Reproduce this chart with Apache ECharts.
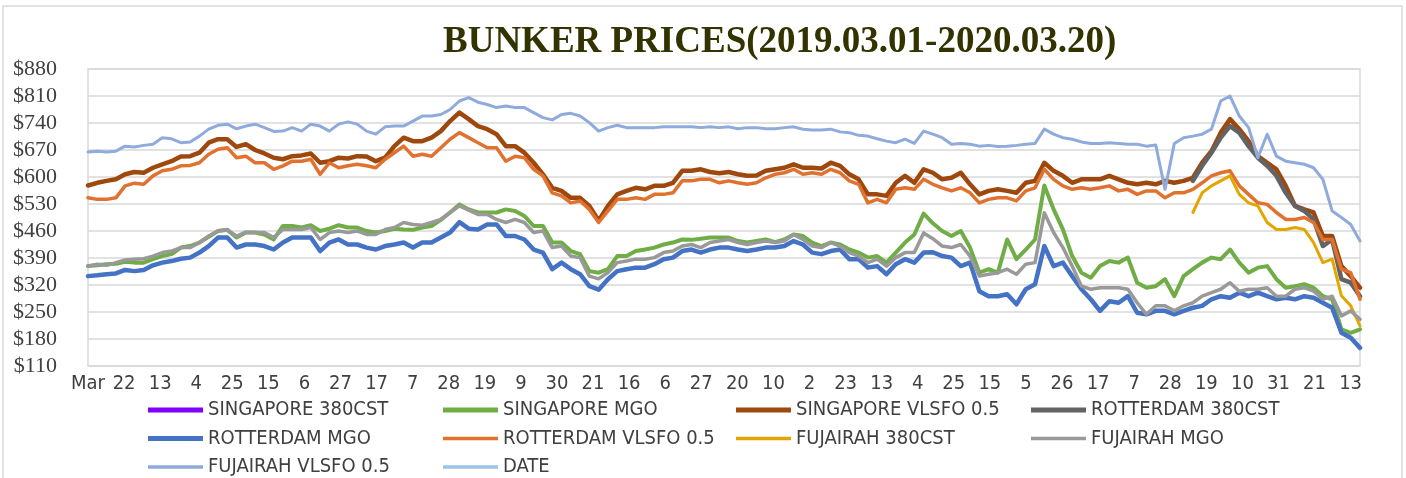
<!DOCTYPE html>
<html>
<head>
<meta charset="utf-8">
<title>Bunker prices</title>
<script src="https://cdn.jsdelivr.net/npm/echarts@6/dist/echarts.min.js"></script>
<style>
  html, body { margin: 0; padding: 0; background: #fff; }
  #main { width: 1406px; height: 478px; }
</style>
</head>
<body>
<div id="main"></div>
<script>
// x axis tick labels (one every few samples)
const tickLabels = ['Mar', '22', '13', '4', '25', '15', '6', '27', '17', '7', '28', '19', '9', '30', '21', '16', '6', '27',
  '20', '10', '2', '23', '13', '4', '25', '15', '5', '26', '17', '7', '28', '19', '10', '31', '21', '13'];

// prices, USD/t
const sgMgo = [
  369, 371, 374, 375, 380, 378, 378, 387, 395, 400, 417, 421, 430, 445, 460, 463, 443, 456, 456, 451, 438, 473, 473,
  469, 475, 460, 466, 475, 469, 469, 460, 456, 460, 466, 464, 463, 469, 473, 489, 508, 529, 516, 508, 508, 508, 516,
  512, 499, 473, 473, 430, 430, 408, 400, 356, 352, 361, 395, 395, 408, 412, 417, 425, 430, 438, 437, 440, 443, 443,
  443, 434, 430, 434, 438, 431, 438, 451, 447, 430, 421, 430, 425, 412, 404, 391, 395, 378, 404, 430, 451, 505, 480,
  460, 447, 460, 417, 352, 361, 352, 438, 387, 412, 438, 578, 516, 464, 395, 352, 339, 369, 382, 378, 391, 326,
  313, 317, 335, 291, 343, 361, 378, 391, 387, 412, 378, 352, 365, 369, 335, 313, 317, 322, 313, 291, 283, 205, 196, 205
];
const sgVlsfo = [
  578, 585, 590, 594, 607, 613, 611, 624, 633, 641, 653, 654, 663, 689, 698, 698, 678, 685, 670, 661, 650, 646, 654,
  656, 661, 637, 641, 650, 648, 654, 653, 641, 650, 680, 702, 693, 693, 702, 719, 745, 767, 750, 732, 724, 711, 680,
  680, 663, 637, 607, 572, 564, 546, 546, 525, 487, 525, 555, 564, 572, 568, 577, 577, 585, 616, 616, 620, 613, 610,
  613, 607, 603, 604, 616, 620, 624, 633, 624, 624, 622, 637, 629, 607, 594, 555, 555, 551, 585, 603, 585, 620, 611,
  594, 598, 611, 581, 555, 564, 568, 564, 559, 585, 590, 637, 616, 603, 585, 594, 594, 594, 603, 594, 585, 581,
  585, 581, 590, 585, 590, 598, 637, 667, 715, 750, 724, 693, 654, 637, 620, 577, 525, 516, 508, 447, 447, 369, 343, 313
];
const rdmMgo = [
  343, 345, 348, 350, 359, 356, 359, 371, 378, 382, 388, 391, 404, 421, 443, 443, 417, 425, 425, 421, 412, 430, 443,
  443, 443, 408, 430, 438, 425, 425, 417, 412, 421, 425, 430, 417, 430, 430, 443, 456, 483, 466, 464, 477, 477, 447,
  447, 438, 412, 404, 361, 378, 361, 348, 317, 308, 335, 356, 361, 365, 365, 374, 387, 391, 408, 412, 404, 412, 417,
  417, 412, 408, 412, 417, 417, 421, 434, 425, 404, 400, 408, 412, 387, 387, 365, 369, 348, 374, 387, 378, 404, 405,
  395, 391, 369, 378, 304, 291, 291, 296, 270, 309, 322, 421, 369, 378, 343, 309, 283, 253, 278, 274, 291, 248,
  244, 253, 253, 244, 253, 261, 266, 283, 291, 287, 300, 291, 300, 291, 283, 287, 283, 291, 287, 274, 261, 196, 183, 157
];
const rdmVlsfo = [
  546, 542, 542, 546, 577, 584, 581, 603, 616, 620, 629, 630, 637, 659, 672, 676, 650, 654, 637, 637, 620, 629, 641,
  641, 646, 607, 637, 624, 629, 633, 629, 624, 646, 663, 680, 654, 659, 654, 676, 698, 715, 702, 689, 676, 676, 641,
  654, 650, 620, 603, 559, 551, 533, 538, 516, 482, 512, 542, 542, 546, 542, 555, 555, 559, 590, 590, 594, 594, 585,
  590, 585, 581, 585, 598, 607, 611, 620, 607, 611, 607, 620, 611, 590, 581, 533, 542, 533, 568, 572, 568, 594, 581,
  572, 564, 572, 559, 533, 542, 546, 546, 538, 564, 572, 620, 594, 577, 568, 572, 568, 572, 577, 564, 568, 555,
  564, 564, 546, 559, 559, 568, 585, 603, 611, 616, 577, 555, 533, 529, 508, 490, 490, 495, 482, 438, 438, 361, 352, 283
];
const fujMgo = [
  369, 374, 371, 378, 385, 387, 388, 395, 404, 408, 417, 417, 430, 447, 460, 463, 447, 457, 456, 456, 443, 464, 464,
  464, 469, 438, 456, 460, 456, 460, 451, 451, 464, 469, 482, 477, 475, 482, 490, 508, 525, 514, 503, 503, 490, 482,
  490, 482, 456, 460, 417, 421, 395, 391, 343, 336, 352, 378, 382, 387, 387, 391, 404, 408, 421, 425, 417, 430, 434,
  438, 430, 425, 430, 434, 430, 434, 451, 438, 421, 417, 430, 421, 404, 395, 378, 387, 369, 391, 404, 404, 455, 440,
  421, 417, 425, 395, 343, 348, 352, 361, 348, 374, 378, 507, 456, 417, 369, 317, 309, 313, 313, 313, 309, 274,
  244, 266, 266, 253, 266, 274, 291, 300, 309, 326, 304, 309, 309, 313, 291, 291, 309, 313, 304, 283, 291, 240, 253, 231
];
const fujVlsfo = [
  665, 667, 665, 667, 680, 678, 682, 685, 702, 699, 689, 691, 706, 724, 734, 737, 725, 732, 737, 728, 718, 719, 728,
  719, 737, 732, 719, 737, 743, 737, 719, 711, 730, 732, 732, 745, 758, 758, 762, 775, 797, 806, 794, 788, 780, 784,
  780, 780, 767, 754, 748, 762, 765, 758, 741, 719, 728, 734, 728, 728, 728, 728, 730, 730, 730, 730, 728, 730, 728,
  730, 725, 728, 728, 725, 725, 728, 730, 724, 722, 722, 724, 717, 715, 708, 706, 699, 693, 689, 698, 687, 719, 711,
  702, 685, 687, 685, 680, 682, 679, 680, 682, 685, 687, 724, 711, 702, 698, 691, 687, 687, 689, 687, 685, 685,
  680, 683, 568, 687, 702, 706, 711, 724, 797, 810, 758, 728, 650, 711, 654, 641, 637, 633, 624, 594, 512, 495, 477, 434
];
// 380CST quotes only start near the end
const lateStart = 119;
const rdm380Tail = [590, 629, 663, 702, 732, 715, 680, 650, 629, 603, 559, 525, 512, 490, 421, 438, 335, 326, 291];
const fuj380Tail = [508, 559, 577, 590, 603, 555, 533, 525, 482, 464, 464, 469, 464, 430, 378, 387, 292, 266, 214];
const sg380 = [];
const dateSeries = [];

const days = sgVlsfo.map((_, i) => String(i));
const padLate = tail => new Array(lateStart).fill(null).concat(tail);
// last tick label sits a little before the right edge
const tickSpan = 35.26;

const narrowFont = '"Liberation Sans Narrow", "DejaVu Sans Condensed", "Noto Sans CJK SC", sans-serif';
const thick = 'path://M0,0H55V5H0Z';
const thin = 'path://M0,0H55V3.5H0Z';

function line(name, color, width, data) {
  return {
    name: name,
    type: 'line',
    xAxisIndex: 0,
    data: data,
    symbol: 'none',
    connectNulls: false,
    lineStyle: {color: color, width: width, cap: 'round', join: 'round'},
    itemStyle: {color: color},
    emphasis: {disabled: true}
  };
}

function legendCol(left, items) {
  return {
    orient: 'vertical',
    left: left,
    top: 398,
    height: 90,
    padding: 0,
    itemWidth: 55,
    itemHeight: 5,
    itemGap: 4.5,
    selectedMode: false,
    textStyle: {fontFamily: narrowFont, fontSize: 20, color: '#404040', lineHeight: 24},
    data: items
  };
}

const chart = echarts.init(document.getElementById('main'));
chart.setOption({
  animation: false,
  backgroundColor: '#fff',
  title: {
    text: 'BUNKER PRICES(2019.03.01-2020.03.20)',
    left: 443,
    top: 24,
    padding: 0,
    textStyle: {fontFamily: '"Liberation Serif", serif', fontWeight: 'bold', fontSize: 37, color: '#333300'}
  },
  graphic: [{
    type: 'rect',
    silent: true,
    z: -10,
    shape: {x: 3, y: 6, width: 1399, height: 480},
    style: {fill: 'none', stroke: '#D9D9D9', lineWidth: 1.5}
  }],
  legend: [
    legendCol(148, [{name: 'SINGAPORE 380CST', icon: thick}, {name: 'ROTTERDAM MGO', icon: thick}, {name: 'FUJAIRAH VLSFO 0.5', icon: thin}]),
    legendCol(443, [{name: 'SINGAPORE MGO', icon: thick}, {name: 'ROTTERDAM VLSFO 0.5', icon: thin}, {name: 'DATE', icon: thin}]),
    legendCol(736, [{name: 'SINGAPORE VLSFO 0.5', icon: thick}, {name: 'FUJAIRAH 380CST', icon: thin}]),
    legendCol(1031, [{name: 'ROTTERDAM 380CST', icon: thick}, {name: 'FUJAIRAH MGO', icon: thin}])
  ],
  grid: {
    left: 88, right: 46, top: 69, bottom: 112,
    show: true, borderColor: '#D9D9D9', borderWidth: 1.5,
    outerBoundsMode: 'none'
  },
  xAxis: [{
    type: 'category',
    data: days,
    boundaryGap: false,
    axisLine: {show: false},
    axisTick: {show: false},
    axisLabel: {show: false},
    splitLine: {show: false}
  }, {
    type: 'value',
    position: 'bottom',
    min: 0,
    max: tickSpan,
    interval: 1,
    axisLine: {show: false},
    axisTick: {show: false},
    splitLine: {show: false},
    axisLabel: {
      margin: 8,
      fontFamily: narrowFont,
      fontSize: 20,
      color: '#404040',
      showMaxLabel: false,
      formatter: function (v) {
        const j = Math.round(v);
        return Math.abs(v - j) < 0.01 && tickLabels[j] !== undefined ? tickLabels[j] : '';
      }
    }
  }],
  yAxis: {
    type: 'value',
    min: 110,
    max: 880,
    interval: 70,
    axisLine: {show: false},
    axisTick: {show: false},
    splitLine: {lineStyle: {color: '#D9D9D9', width: 1.5}},
    axisLabel: {
      margin: 31,
      fontFamily: '"Liberation Serif", serif',
      fontSize: 22,
      color: '#404040',
      formatter: v => '$' + v
    }
  },
  series: [
    line('SINGAPORE 380CST', '#7F00FF', 4.5, sg380),
    line('SINGAPORE MGO', '#70AD47', 4, sgMgo),
    line('SINGAPORE VLSFO 0.5', '#9E480E', 4.5, sgVlsfo),
    line('ROTTERDAM 380CST', '#636363', 4.5, padLate(rdm380Tail)),
    line('ROTTERDAM MGO', '#4472C4', 4.5, rdmMgo),
    line('ROTTERDAM VLSFO 0.5', '#E0712F', 3.5, rdmVlsfo),
    line('FUJAIRAH 380CST', '#E3A600', 3, padLate(fuj380Tail)),
    line('FUJAIRAH MGO', '#999999', 3.5, fujMgo),
    line('FUJAIRAH VLSFO 0.5', '#8FAADC', 3, fujVlsfo),
    line('DATE', '#9DC3E6', 3, dateSeries)
  ]
});
</script>
</body>
</html>
